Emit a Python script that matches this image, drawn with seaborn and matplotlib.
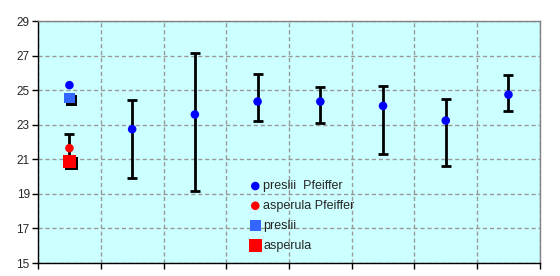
import matplotlib
matplotlib.use("Agg")
import matplotlib.pyplot as plt
import matplotlib.patheffects as pe
import seaborn as sns
import numpy as np
import pandas as pd

categories = list(range(1, 9))
preslii_pf_mean = [25.3, 22.75, 23.6, 24.35, 24.35, 24.1, 23.25, 24.75]
preslii_pf_low = [np.nan, 19.9, 19.15, 23.25, 23.1, 21.3, 20.6, 23.8]
preslii_pf_high = [np.nan, 24.45, 27.15, 25.95, 25.2, 25.25, 24.5, 25.9]
asperula_pf_mean = [21.65]
asperula_pf_low = [20.8]
asperula_pf_high = [22.5]
preslii_mean = [24.55]
asperula_mean = [20.9]
y_ticks = [15, 17, 19, 21, 23, 25, 27, 29]

sns.set_theme(style="white")
plt.rcParams['font.family'] = ['Liberation Sans', 'DejaVu Sans']

fig = plt.figure(figsize=(5.6, 2.76), dpi=100)
ax = fig.add_axes([0.068, 0.047, 0.896, 0.876])
ax.set_facecolor("#CCFFFF")

x = np.arange(len(categories))
df_pp = pd.DataFrame({"x": x, "y": preslii_pf_mean, "lo": preslii_pf_low, "hi": preslii_pf_high})
df_ap = pd.DataFrame({"x": x[:1], "y": asperula_pf_mean, "lo": asperula_pf_low, "hi": asperula_pf_high})
df_p = pd.DataFrame({"x": x[:1], "y": preslii_mean})
df_a = pd.DataFrame({"x": x[:1], "y": asperula_mean})

for d in (df_pp, df_ap):
    m = d["lo"].notna()
    ax.errorbar(d.loc[m, "x"], d.loc[m, "y"],
                yerr=[d.loc[m, "y"] - d.loc[m, "lo"], d.loc[m, "hi"] - d.loc[m, "y"]],
                fmt="none", ecolor="black", elinewidth=2, capsize=3.5, capthick=2, zorder=3)

shadow = [pe.SimplePatchShadow(offset=(1.6, -1.6), shadow_rgbFace="black", alpha=1), pe.Normal()]

sns.scatterplot(data=df_a, x="x", y="y", ax=ax, marker="s", s=85, color="#FF0000",
                edgecolor="none", label="asperula", zorder=4)
sns.scatterplot(data=df_p, x="x", y="y", ax=ax, marker="s", s=60, color="#3366FF",
                edgecolor="none", label="preslii", zorder=4)
sns.scatterplot(data=df_pp, x="x", y="y", ax=ax, marker="o", s=38, color="#0000FF",
                edgecolor="none", label="preslii  Pfeiffer", zorder=5)
sns.scatterplot(data=df_ap, x="x", y="y", ax=ax, marker="o", s=38, color="#FF0000",
                edgecolor="none", label="asperula Pfeiffer", zorder=5)
for coll in ax.collections[-4:-2]:
    coll.set_path_effects(shadow)

ax.set_xlim(-0.5, len(categories) - 0.5)
ax.set_ylim(15, 29)
ax.set_yticks(y_ticks)
ax.set_yticklabels([str(t) for t in y_ticks], fontsize=8.5)
ax.set_xticks(np.arange(-0.5, len(categories) + 0.5, 1))
ax.set_xticklabels([])
ax.set_xlabel("")
ax.set_ylabel("")
ax.tick_params(axis="both", direction="out", length=4, width=1, color="black",
               left=True, bottom=True, pad=2)
ax.grid(True, color="#999999", linestyle=(0, (3, 2)), linewidth=1)
ax.set_axisbelow(True)
for s in ("left", "bottom"):
    ax.spines[s].set_color("black")
    ax.spines[s].set_linewidth(1)
for s in ("top", "right"):
    ax.spines[s].set_color("#808080")
    ax.spines[s].set_linewidth(1)

h, l = ax.get_legend_handles_labels()
order = [l.index(n) for n in ["preslii  Pfeiffer", "asperula Pfeiffer", "preslii", "asperula"]]
leg = ax.legend([h[i] for i in order], [l[i] for i in order], loc="upper left",
                bbox_to_anchor=(0.408, 0.368), frameon=False, fontsize=9,
                handletextpad=0.15, labelspacing=0.62, handlelength=1.0, borderpad=0)
for hd in leg.legend_handles:
    hd.set_path_effects([])

fig.savefig("out.png", dpi=100)
